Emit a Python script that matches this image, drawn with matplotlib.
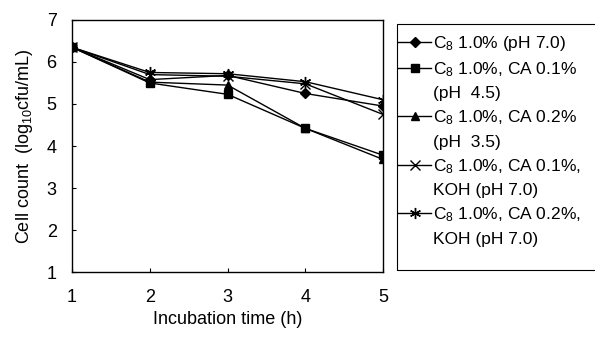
import matplotlib.pyplot as plt
from matplotlib.lines import Line2D
from matplotlib.patches import Rectangle

plt.rcParams['font.family'] = ['Liberation Sans Narrow', 'Liberation Sans', 'DejaVu Sans']
plt.rcParams['mathtext.default'] = 'regular'

# incubation time (h)
hours = [1, 2, 3, 4, 5]

# cell count (log10 cfu/mL)
c8_ph70 = [6.35, 5.58, 5.68, 5.25, 4.95]
c8_ca01_ph45 = [6.35, 5.50, 5.23, 4.42, 3.78]
c8_ca02_ph35 = [6.35, 5.52, 5.45, 4.42, 3.68]
c8_ca01_koh = [6.35, 5.70, 5.66, 5.48, 4.75]
c8_ca02_koh = [6.35, 5.75, 5.72, 5.53, 5.10]

series = [
    (c8_ph70, 'D', 5, ['C$_8$ 1.0% (pH 7.0)']),
    (c8_ca01_ph45, 's', 6, ['C$_8$ 1.0%, CA 0.1%', '(pH  4.5)']),
    (c8_ca02_ph35, '^', 6, ['C$_8$ 1.0%, CA 0.2%', '(pH  3.5)']),
    (c8_ca01_koh, 'x', 7, ['C$_8$ 1.0%, CA 0.1%,', 'KOH (pH 7.0)']),
    (c8_ca02_koh, (6, 2, 0), 8, ['C$_8$ 1.0%, CA 0.2%,', 'KOH (pH 7.0)']),
]

fig = plt.figure(figsize=(5.95, 3.38), dpi=100)
ax = fig.add_axes([0.121, 0.195, 0.523, 0.746])

handles = []
labels = []
for vals, mk, ms, lab in series:
    line, = ax.plot(hours, vals, color='black', lw=1.0, marker=mk, markersize=ms,
                    markeredgewidth=1.0)
    handles.append(line)
    labels.append(lab[0])
    # second line of a label goes in as a blank entry
    for extra in lab[1:]:
        handles.append(Line2D([], [], color='none'))
        labels.append(extra)

ax.set_xlim(1, 5)
ax.set_ylim(1, 7)
ax.set_xticks(hours)
ax.set_yticks(range(1, 8))
ax.tick_params(direction='in', length=3, labelsize=13, colors='black')
ax.tick_params(axis='x', pad=12)
ax.tick_params(axis='y', pad=11)
for s in ax.spines.values():
    s.set_linewidth(1.0)

ax.set_xlabel('Incubation time (h)', fontsize=13, labelpad=4)
ax.set_ylabel('Cell count  (log$_{10}$cfu/mL)', fontsize=13, labelpad=8)

# legend box drawn separately (taller than the entries)
fig.patches.append(Rectangle((397 / 595, 1 - 270 / 338), 200 / 595, 246 / 338,
                             transform=fig.transFigure, fill=False,
                             edgecolor='black', lw=0.8))
leg = fig.legend(handles, labels, loc='upper left', bbox_to_anchor=(0.669, 0.90),
                 fontsize=12.5, frameon=False,
                 handlelength=1.9, handletextpad=0.1, labelspacing=0.42,
                 borderpad=0, borderaxespad=0)

fig.savefig('out.png', dpi=100)
